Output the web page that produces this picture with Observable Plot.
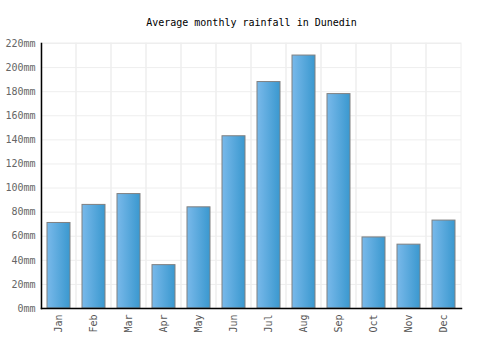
<!DOCTYPE html>
<html>
<head>
<meta charset="utf-8">
<script src="https://cdn.jsdelivr.net/npm/d3@7"></script>
<script src="https://cdn.jsdelivr.net/npm/@observablehq/plot@0.6"></script>
<style>
  html, body { margin: 0; padding: 0; background: #fff; }
  #chart svg { display: block; }
</style>
</head>
<body>
<div id="chart"></div>
<script>
const title = "Average monthly rainfall in Dunedin";
const months = ["Jan","Feb","Mar","Apr","May","Jun","Jul","Aug","Sep","Oct","Nov","Dec"];
const rainfall = [71, 86, 95, 36, 84, 143, 188, 210, 178, 59, 53, 73];
const yTicks = [0, 20, 40, 60, 80, 100, 120, 140, 160, 180, 200, 220];
const unit = "mm";

const data = months.map((m, i) => ({month: m, value: rainfall[i]}));
const font = "'DejaVu Sans Mono', monospace";

const chart = Plot.plot({
  width: 500,
  height: 350,
  marginLeft: 41,
  marginRight: 39,
  marginTop: 43,
  marginBottom: 42,
  style: {fontFamily: font, fontSize: "10px", background: "#fff", overflow: "visible"},
  x: {domain: months, padding: 0, label: null},
  y: {domain: [0, 220], ticks: yTicks, label: null},
  marks: [
    Plot.barY(months, {x: d => d, y1: 0, y2: 220, fill: "none", stroke: "#eeeeee", strokeWidth: 1}),
    Plot.gridY(yTicks, {stroke: "#eeeeee", strokeOpacity: 1, strokeWidth: 1}),
    Plot.barY(data, {x: "month", y: "value", fill: "url(#barGrad)", stroke: "#808080", strokeWidth: 1, insetLeft: 6, insetRight: 6}),
    Plot.axisY({ticks: yTicks, tickFormat: d => d + unit, tickSize: 0, tickPadding: 6, fill: "#666", label: null}),
    Plot.axisX({tickSize: 0, tickRotate: -90, tickPadding: 6, fill: "#555", label: null}),
    Plot.frame({anchor: "left", stroke: "#000", strokeWidth: 1.5}),
    Plot.frame({anchor: "bottom", stroke: "#000", strokeWidth: 1.5}),
    Plot.text([title], {frameAnchor: "top", dy: -21, fontSize: 10, fill: "#000", lineAnchor: "middle"})
  ]
});

// gradient definition
const ns = "http://www.w3.org/2000/svg";
const defs = document.createElementNS(ns, "defs");
const grad = document.createElementNS(ns, "linearGradient");
grad.setAttribute("id", "barGrad");
grad.setAttribute("x1", "0"); grad.setAttribute("y1", "0");
grad.setAttribute("x2", "1"); grad.setAttribute("y2", "0");
[["0%", "#79b9ea"], ["100%", "#3a98cf"]].forEach(([o, c]) => {
  const s = document.createElementNS(ns, "stop");
  s.setAttribute("offset", o);
  s.setAttribute("stop-color", c);
  grad.appendChild(s);
});
defs.appendChild(grad);
chart.insertBefore(defs, chart.firstChild);

document.getElementById("chart").appendChild(chart);
</script>
</body>
</html>
